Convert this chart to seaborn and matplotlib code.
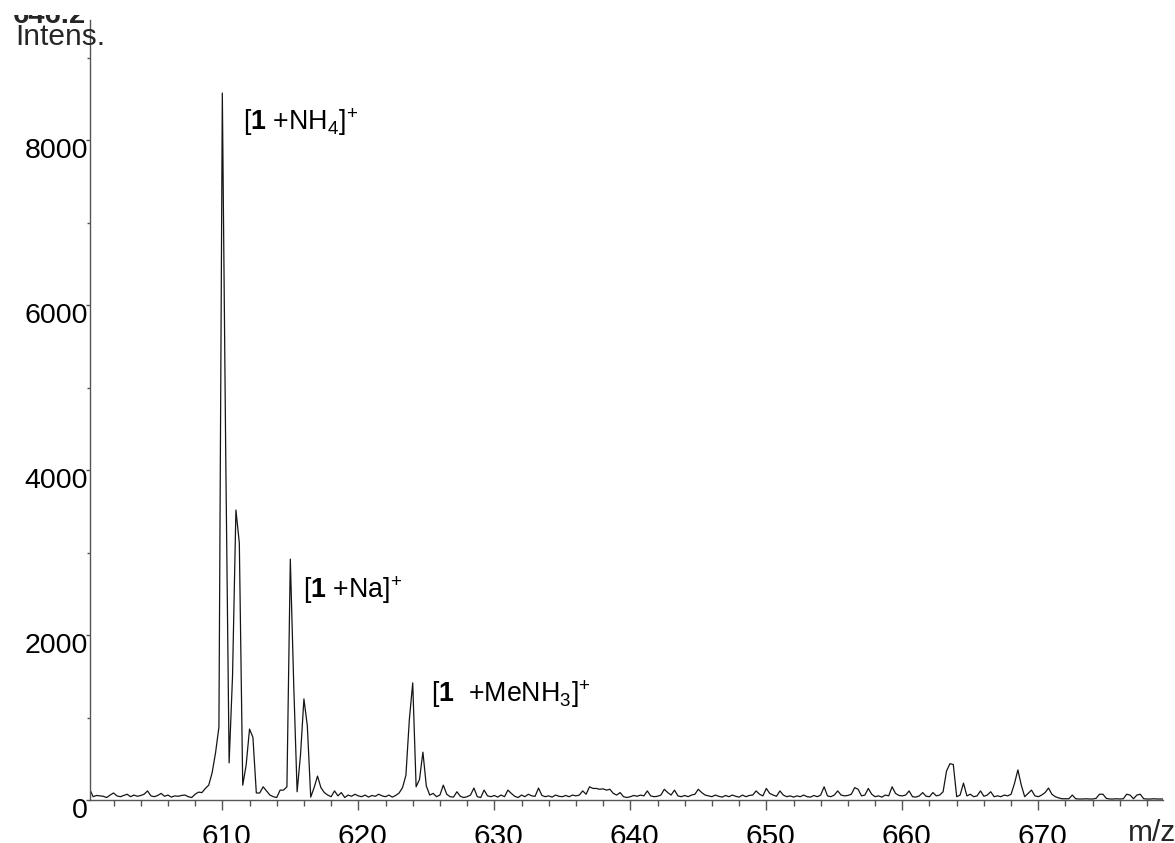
import numpy as np
import pandas as pd
import matplotlib
matplotlib.use("Agg")
import matplotlib.pyplot as plt
import seaborn as sns
from matplotlib.ticker import MultipleLocator, FixedLocator
from matplotlib.transforms import ScaledTranslation
from matplotlib.patches import Rectangle

# ---- spectrum: intensities sampled every 0.25 m/z starting at 600.0 ----
MZ_START = 600.0
MZ_STEP = 0.25
INTENSITY = [
    40, 130, 40, 55,      # 600
    50, 45, 30, 60,       # 601
    85, 50, 40, 55,       # 602
    70, 40, 60, 45,       # 603
    55, 70, 110, 50,      # 604
    40, 55, 80, 45,       # 605
    60, 35, 50, 45,       # 606
    55, 60, 40, 30,       # 607
    70, 95, 90, 140,      # 608
    180, 330, 570, 885,   # 609
    8570, 4200, 450, 1500,  # 610
    3515, 3115, 180, 420,   # 611
    860, 760, 85, 85,     # 612
    160, 110, 60, 40,     # 613
    30, 120, 120, 160,    # 614
    2920, 1400, 100, 550,   # 615
    1225, 900, 35, 150,   # 616
    290, 150, 90, 60,     # 617
    40, 110, 50, 90,      # 618
    30, 60, 45, 70,       # 619
    50, 40, 60, 35,       # 620
    55, 45, 70, 50,       # 621
    40, 60, 35, 55,       # 622
    85, 150, 300, 970,    # 623
    1420, 160, 250, 580,  # 624
    170, 60, 80, 40,      # 625
    60, 180, 70, 40,      # 626
    35, 100, 45, 30,      # 627
    40, 60, 145, 40,      # 628
    30, 120, 50, 40,      # 629
    55, 35, 60, 40,       # 630
    120, 80, 45, 30,      # 631
    60, 40, 70, 50,       # 632
    45, 145, 55, 40,      # 633
    50, 35, 60, 45,       # 634
    40, 55, 40, 60,       # 635
    50, 60, 110, 70,      # 636
    160, 140, 140, 130,   # 637
    135, 120, 130, 80,    # 638
    60, 90, 40, 30,       # 639
    40, 55, 45, 60,       # 640
    50, 110, 50, 40,      # 641
    45, 60, 130, 90,      # 642
    60, 120, 50, 40,      # 643
    55, 40, 60, 70,       # 644
    130, 90, 60, 50,      # 645
    40, 60, 45, 35,       # 646
    55, 40, 60, 45,       # 647
    35, 60, 40, 55,       # 648
    60, 110, 70, 50,      # 649
    140, 80, 60, 45,      # 650
    110, 60, 40, 50,      # 651
    35, 50, 40, 60,       # 652
    40, 35, 55, 40,       # 653
    60, 160, 50, 40,      # 654
    60, 110, 60, 50,      # 655
    55, 70, 150, 130,     # 656
    50, 60, 140, 70,      # 657
    40, 50, 35, 60,       # 658
    50, 160, 80, 55,      # 659
    50, 60, 110, 40,      # 660
    35, 50, 90, 45,       # 661
    40, 90, 50, 60,       # 662
    100, 350, 440, 430,   # 663
    40, 60, 205, 50,      # 664
    70, 40, 50, 110,      # 665
    45, 60, 100, 40,      # 666
    50, 40, 60, 50,       # 667
    70, 200, 365, 180,    # 668
    40, 80, 120, 50,      # 669
    40, 60, 90, 145,      # 670
    70, 40, 25, 15,       # 671
    15, 15, 60, 15,       # 672
    12, 12, 15, 12,       # 673
    12, 20, 70, 70,       # 674
    20, 12, 12, 15,       # 675
    12, 15, 70, 60,       # 676
    15, 60, 70, 15,       # 677
    12, 12, 15, 12,       # 678
    12, 12, 12, 12,       # 679
]

X_TICKS = [610, 620, 630, 640, 650, 660, 670]
Y_TICKS = [0, 2000, 4000, 6000, 8000]
X_LIMITS = (600.27, 679.17)
Y_LIMITS = (0, 9455)

PEAK_LABELS = [
    (r"[$\mathbf{1}$ +NH$_4$]$^{+}$", 611.5, 8120),
    (r"[$\mathbf{1}$ +Na]$^{+}$", 615.9, 2450),
    (r"[$\mathbf{1}$  +MeNH$_3$]$^{+}$", 625.35, 1190),
]
TOP_LABEL = "646.2"
Y_TITLE = "Intens."
X_TITLE = "m/z"

sns.set_theme(style="ticks")
plt.rcParams["font.family"] = ["Liberation Sans", "DejaVu Sans"]
plt.rcParams["mathtext.fontset"] = "custom"
plt.rcParams["mathtext.rm"] = "Liberation Sans"
plt.rcParams["mathtext.bf"] = "Liberation Sans:bold"
plt.rcParams["mathtext.it"] = "Liberation Sans:italic"

mz = MZ_START + MZ_STEP * np.arange(len(INTENSITY))
df = pd.DataFrame({"mz": mz, "intensity": INTENSITY})

W, H = 1175, 843
fig = plt.figure(figsize=(W / 100, H / 100), dpi=100)
fig.patch.set_facecolor("white")
ax = fig.add_axes([90 / W, 43 / H, (1163 - 90) / W, (800 - 20) / H])
ax.set_facecolor("white")

sns.lineplot(data=df, x="mz", y="intensity", ax=ax, color="#151515",
             linewidth=0.9, estimator=None, sort=False)

ax.set_xlim(*X_LIMITS)
ax.set_ylim(*Y_LIMITS)
ax.set_xlabel("")
ax.set_ylabel("")
ax.xaxis.set_major_locator(FixedLocator(X_TICKS))
ax.xaxis.set_minor_locator(MultipleLocator(2))
ax.yaxis.set_major_locator(FixedLocator(Y_TICKS))
ax.yaxis.set_minor_locator(MultipleLocator(1000))

for side in ("top", "right"):
    ax.spines[side].set_visible(False)
for side in ("left", "bottom"):
    ax.spines[side].set_color("#555555")
    ax.spines[side].set_linewidth(1.0)

ax.tick_params(axis="x", which="major", length=7.2, width=1.0, color="#555555",
               pad=9.5, labelsize=21.5, labelcolor="black", direction="out")
ax.tick_params(axis="x", which="minor", length=4, width=1.0, color="#555555",
               direction="out")
ax.tick_params(axis="y", which="major", length=3, width=1.0, color="#555555",
               pad=-1.5, labelsize=20.5, labelcolor="black", direction="out")
ax.tick_params(axis="y", which="minor", length=2, width=1.0, color="#555555",
               direction="out")

for text, x, y in PEAK_LABELS:
    ax.text(x, y, text, fontsize=19.3, ha="left", va="baseline", color="black")

fig.canvas.draw()
for lbl in ax.get_yticklabels():
    lbl.set_verticalalignment("top")
    lbl.set_transform(lbl.get_transform() + ScaledTranslation(0, 2 / 100, fig.dpi_scale_trans))
for lbl in ax.get_xticklabels():
    lbl.set_transform(lbl.get_transform() + ScaledTranslation(4 / 100, 0, fig.dpi_scale_trans))

# axis titles in the corners
fig.text(1128 / W, (H - 841) / H, X_TITLE, fontsize=21.5, ha="left", va="baseline")
fig.text(15 / W, (H - 45) / H, Y_TITLE, fontsize=21.5, ha="left", va="baseline")
fig.text(13 / W, (H - 23) / H, TOP_LABEL, fontsize=21, fontweight="bold",
         ha="left", va="baseline")
# the header strip hides the upper part of the top label
fig.patches.append(Rectangle((0, (H - 15) / H), 130 / W, 15 / H, transform=fig.transFigure,
                             facecolor="white", edgecolor="none", zorder=10))

fig.savefig("out.png", dpi=100, facecolor="white")
